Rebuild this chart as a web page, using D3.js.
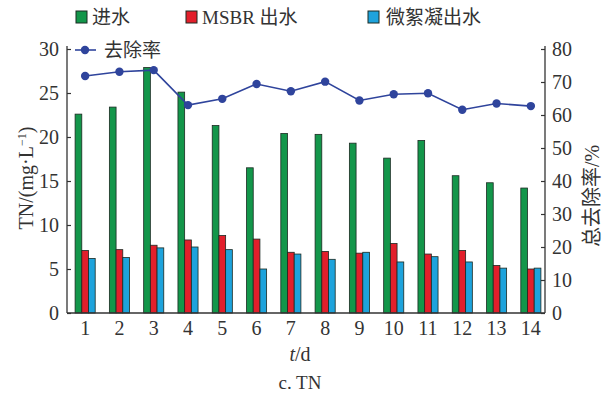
<!DOCTYPE html>
<html><head><meta charset="utf-8">
<script src="https://cdn.jsdelivr.net/npm/d3@7"></script>
<style>
body{margin:0;background:#fff;}
text{font-family:"Liberation Serif","Noto Sans CJK SC",serif;}
</style></head>
<body><svg id="c" width="606" height="401"></svg>
<script>
const days = ["1","2","3","4","5","6","7","8","9","10","11","12","13","14"];
const influent = [22.6,23.4,27.9,25.1,21.3,16.5,20.4,20.3,19.3,17.6,19.6,15.6,14.8,14.2];
const msbr     = [7.1,7.2,7.7,8.3,8.8,8.4,6.9,7.0,6.8,7.9,6.7,7.1,5.4,5.0];
const floc     = [6.2,6.3,7.4,7.5,7.2,5.0,6.7,6.1,6.9,5.8,6.4,5.8,5.1,5.1];
const removal  = [71.8,73.1,73.6,63.0,64.9,69.4,67.2,70.1,64.4,66.3,66.6,61.6,63.5,62.7];
const leftTicks = [0,5,10,15,20,25,30];
const rightTicks = [0,10,20,30,40,50,60,70,80];
const seriesNames = ["进水","MSBR 出水","微絮凝出水"];
const colors = ["#13964a","#e21f2b","#1ea3dc"];
const lineColor = "#2f449c";

const svg = d3.select("#c");
const L = 67, R = 545, T = 49, B = 313;
const x = d3.scaleBand().domain(days).range([68, 548]);
const yL = d3.scaleLinear().domain([0,30]).range([B,T]);
const yR = d3.scaleLinear().domain([0,80]).range([B,T]);
const bw = 6.7;

const series = [influent, msbr, floc];
series.forEach((vals,si)=>{
  svg.append("g").selectAll("rect").data(vals).join("rect")
    .attr("x",(d,i)=>x(days[i]) + x.bandwidth()/2 - 1.5*bw + si*bw)
    .attr("y",d=>yL(d))
    .attr("width",bw)
    .attr("height",d=>yL(0)-yL(d))
    .attr("fill",colors[si])
    .attr("stroke","#1b2a22").attr("stroke-width",0.8);
});

// axes frame
const gl = svg.append("g").attr("transform",`translate(${L},0)`)
  .call(d3.axisRight(yL).tickValues(leftTicks).tickSize(4).tickFormat(""));
gl.select(".domain").remove();
svg.append("line").attr("x1",L).attr("x2",L).attr("y1",T-3).attr("y2",B).attr("stroke","#333").attr("stroke-width",1.3);
svg.append("g").selectAll("text").data(leftTicks).join("text")
  .attr("x",L-8).attr("y",d=>yL(d)).attr("dy","0.35em").attr("text-anchor","end")
  .attr("font-size",20).attr("fill","#333").text(d=>d);

const gr = svg.append("g").attr("transform",`translate(${R},0)`)
  .call(d3.axisLeft(yR).tickValues(rightTicks).tickSize(4).tickFormat(""));
gr.select(".domain").remove();
svg.append("line").attr("x1",R).attr("x2",R).attr("y1",T-3).attr("y2",B).attr("stroke","#333").attr("stroke-width",1.3);
svg.append("g").selectAll("text").data(rightTicks).join("text")
  .attr("x",R+7).attr("y",d=>yR(d)).attr("dy","0.35em").attr("text-anchor","start")
  .attr("font-size",20).attr("fill","#333").text(d=>d);
svg.selectAll(".tick line").attr("stroke","#333").attr("stroke-width",1.2);

svg.append("line").attr("x1",L).attr("x2",R).attr("y1",B).attr("y2",B).attr("stroke","#333").attr("stroke-width",1.3);
svg.append("g").selectAll("text").data(days).join("text")
  .attr("x",d=>x(d)+x.bandwidth()/2).attr("y",B+22).attr("text-anchor","middle")
  .attr("font-size",20).attr("fill","#333").text(d=>d);

// line
const line = d3.line().x((d,i)=>x(days[i])+x.bandwidth()/2).y(d=>yR(d));
svg.append("path").datum(removal).attr("d",line).attr("fill","none").attr("stroke",lineColor).attr("stroke-width",1.6);
svg.append("g").selectAll("circle").data(removal).join("circle")
  .attr("cx",(d,i)=>x(days[i])+x.bandwidth()/2).attr("cy",d=>yR(d)).attr("r",4.2).attr("fill",lineColor);

// legend
const leg = [{x:76,tx:92},{x:186,tx:202},{x:368,tx:386}];
leg.forEach((l,i)=>{
  svg.append("rect").attr("x",l.x).attr("y",11).attr("width",11).attr("height",12)
    .attr("fill",colors[i]).attr("stroke","#1b2a22").attr("stroke-width",1);
  svg.append("text").attr("x",l.tx).attr("y",17).attr("dy","0.36em").attr("font-size",19)
    .attr("fill","#333").text(seriesNames[i]);
});
svg.append("line").attr("x1",75).attr("x2",96).attr("y1",50).attr("y2",50).attr("stroke",lineColor).attr("stroke-width",1.6);
svg.append("circle").attr("cx",85).attr("cy",50).attr("r",4.2).attr("fill",lineColor);
svg.append("text").attr("x",104).attr("y",50).attr("dy","0.36em").attr("font-size",19).attr("fill","#333").text("去除率");

// axis titles
const lt = svg.append("text").attr("transform","translate(33,178) rotate(-90)").attr("text-anchor","middle")
  .attr("font-size",20).attr("fill","#333");
lt.append("tspan").text("TN/(mg·L");
lt.append("tspan").attr("dy",-7).attr("font-size",12).text("−1");
lt.append("tspan").attr("dy",7).text(")");
svg.append("text").attr("transform","translate(592,196) rotate(-90)").attr("text-anchor","middle")
  .attr("dy","0.35em").attr("font-size",20).attr("fill","#333").text("总去除率/%");
const xt = svg.append("text").attr("x",300).attr("y",361).attr("text-anchor","middle").attr("font-size",20).attr("fill","#333");
xt.append("tspan").attr("font-style","italic").text("t");
xt.append("tspan").text("/d");
svg.append("text").attr("x",300).attr("y",389).attr("text-anchor","middle").attr("font-size",19).attr("fill","#333").text("c. TN");
</script></body></html>
